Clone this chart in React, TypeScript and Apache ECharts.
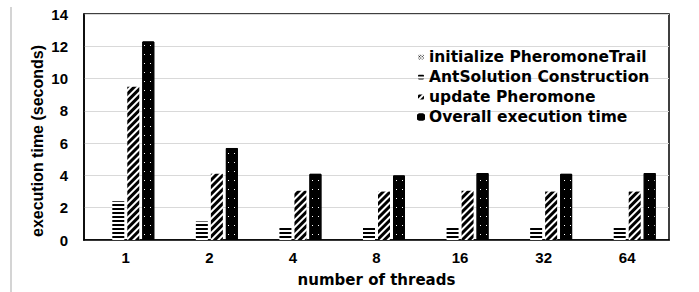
import React, { useEffect, useRef } from "react";
import * as echarts from "echarts";

const categories = ["1", "2", "4", "8", "16", "32", "64"];
const initPheromone = [0, 0, 0, 0, 0, 0, 0];
const antSolution = [2.4, 1.15, 0.8, 0.8, 0.8, 0.8, 0.85];
const updatePheromone = [9.5, 4.1, 3.05, 3.0, 3.05, 3.0, 3.0];
const overall = [12.3, 5.7, 4.1, 4.0, 4.15, 4.1, 4.15];
const seriesNames = [
  "initialize PheromoneTrail",
  "AntSolution Construction",
  "update Pheromone",
  "Overall execution time",
];

export default function App() {
  const ref = useRef<HTMLDivElement>(null);
  useEffect(() => {
    if (!ref.current) return;
    const chart = echarts.init(ref.current, null, { renderer: "svg" });
    const tickFont = { fontFamily: "Liberation Sans, Arial", fontWeight: "bold" as const, fontSize: 15, color: "#000" };
    const wideFont = { fontFamily: "DejaVu Sans", fontWeight: "bold" as const, fontSize: 15.5, color: "#000" };
    chart.setOption({
      animation: false,
      backgroundColor: "#fff",
      grid: { left: 84, right: 30, top: 14, bottom: 48, show: true, borderColor: "#000", borderWidth: 1.5, containLabel: false },
      legend: {
        orient: "vertical",
        left: 417,
        top: 49,
        itemWidth: 6,
        itemHeight: 5,
        itemGap: 4,
        padding: 0,
        textStyle: wideFont,
        data: seriesNames,
      },
      xAxis: {
        type: "category",
        data: categories,
        axisTick: { show: false },
        axisLine: { lineStyle: { color: "#000", width: 1.5 } },
        axisLabel: { ...tickFont, margin: 10 },
        name: "number of threads",
        nameLocation: "middle",
        nameGap: 32,
        nameTextStyle: { ...wideFont, fontSize: 15 },
      },
      yAxis: {
        type: "value",
        min: 0,
        max: 14,
        interval: 2,
        axisLine: { show: true, lineStyle: { color: "#000", width: 1.5 } },
        axisTick: { show: false },
        axisLabel: { ...tickFont, margin: 16 },
        splitLine: { lineStyle: { color: "#d9d9d9", width: 1 } },
      },
      graphic: [
        { type: "line", shape: { x1: 11, y1: 7, x2: 11, y2: 292 }, style: { stroke: "#d4d4d4", lineWidth: 2 } },
        {
          type: "text",
          x: 37,
          y: 141,
          rotation: Math.PI / 2,
          style: { text: "execution time (seconds)", font: "bold 16px 'Liberation Sans', Arial", fill: "#000", align: "center", verticalAlign: "middle" },
        },
      ],
      series: [
        {
          name: seriesNames[0],
          type: "bar",
          data: initPheromone,
          barWidth: 12,
          barGap: "25%",
          itemStyle: { color: "#fff", decal: { symbol: "rect", color: "#000", dashArrayX: [1, 1], dashArrayY: [1, 1], symbolSize: 1, rotation: Math.PI / 4 } },
        },
        {
          name: seriesNames[1],
          type: "bar",
          data: antSolution,
          barWidth: 12,
          barGap: "25%",
          itemStyle: { color: "#fff", decal: { symbol: "rect", color: "#000", dashArrayX: [[1, 0]], dashArrayY: [2, 2], symbolSize: 1, rotation: 0 } },
        },
        {
          name: seriesNames[2],
          type: "bar",
          data: updatePheromone,
          barWidth: 12,
          barGap: "25%",
          itemStyle: { color: "#fff", decal: { symbol: "rect", color: "#000", dashArrayX: [[1, 0]], dashArrayY: [3, 2], symbolSize: 1, rotation: -Math.PI / 4 } },
        },
        {
          name: seriesNames[3],
          type: "bar",
          data: overall,
          barWidth: 12,
          barGap: "25%",
          itemStyle: { color: "#000", borderColor: "#000", borderWidth: 1, decal: { symbol: "rect", color: "#fff", dashArrayX: [1, 5], dashArrayY: [1, 8], symbolSize: 1, rotation: 0 } },
        },
      ],
    });
    return () => chart.dispose();
  }, []);
  return <div ref={ref} style={{ width: 699, height: 292, position: "absolute", left: 0, top: 0 }} />;
}
